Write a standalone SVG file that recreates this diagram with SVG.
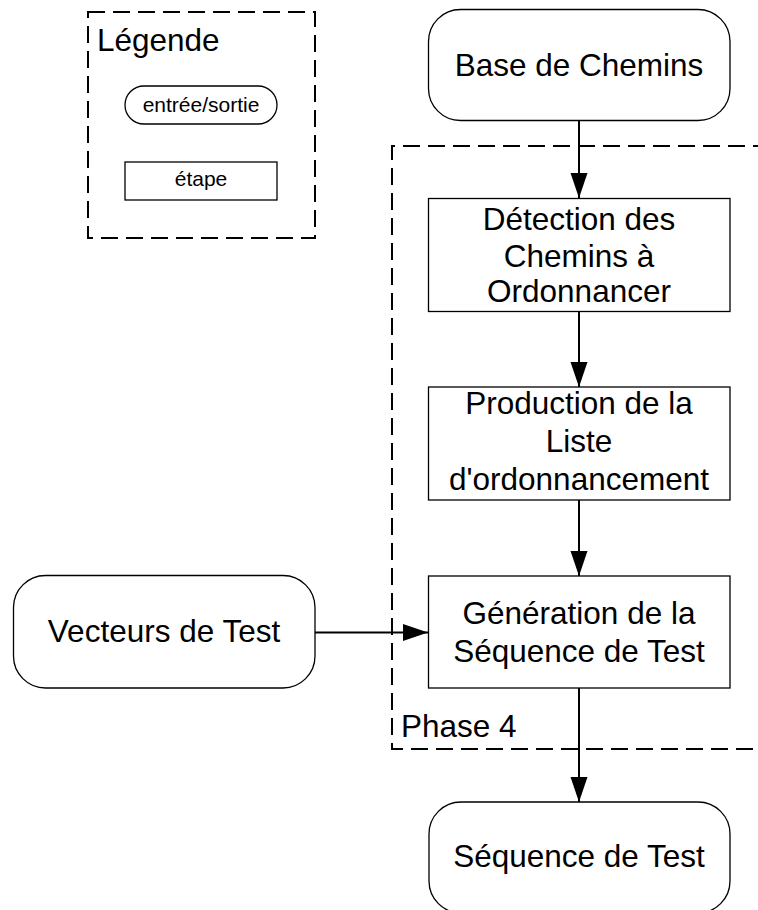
<svg xmlns="http://www.w3.org/2000/svg" width="758" height="910" viewBox="0 0 758 910">
<defs>
<style>
.node{fill:#fff;stroke:#000;stroke-width:1.3}
.dash{fill:none;stroke:#000;stroke-width:2;stroke-dasharray:17 8}
.t{font-family:"Liberation Sans",Arial,sans-serif;font-size:31.5px;fill:#000;text-anchor:middle}
.ts{font-family:"Liberation Sans",Arial,sans-serif;font-size:21px;fill:#000;text-anchor:middle}
.tl{font-family:"Liberation Sans",Arial,sans-serif;font-size:31.5px;fill:#000}
.edge{fill:none;stroke:#000;stroke-width:2}
</style>
<marker id="arr" markerWidth="26" markerHeight="18" refX="25" refY="8.5" orient="auto" markerUnits="userSpaceOnUse">
<path d="M0,0 L25,8.5 L0,17 Z" fill="#000"/>
</marker>
</defs>
<rect width="758" height="910" fill="#fff"/>

<g id="legend">
<rect class="dash" x="88" y="12" width="227" height="226"/>
<text class="tl" x="97" y="51">Légende</text>
<rect class="node" x="125" y="86" width="152" height="38" rx="19"/>
<text class="ts" x="201" y="112">entrée/sortie</text>
<rect class="node" x="125" y="162" width="152" height="38"/>
<text class="ts" x="201" y="186">étape</text>
</g>

<g id="phase4">
<path class="dash" d="M770,146 H392 V749 H770"/>
<text class="tl" x="401" y="737">Phase 4</text>
</g>

<g id="connectors">
<line class="edge" x1="579" y1="121" x2="579" y2="198" marker-end="url(#arr)"/>
<line class="edge" x1="579" y1="312" x2="579" y2="387" marker-end="url(#arr)"/>
<line class="edge" x1="579" y1="500" x2="579" y2="576" marker-end="url(#arr)"/>
<line class="edge" x1="315" y1="632.5" x2="428" y2="632.5" marker-end="url(#arr)"/>
<line class="edge" x1="579" y1="688" x2="579" y2="802" marker-end="url(#arr)"/>
</g>

<g id="base-chemins">
<rect class="node" x="428.5" y="9.5" width="301.5" height="111" rx="32"/>
<text class="t" x="579" y="76">Base de Chemins</text>
</g>

<g id="detection">
<rect class="node" x="428.5" y="198.5" width="301.5" height="113"/>
<text class="t" x="579" y="230">Détection des</text>
<text class="t" x="579" y="266.5">Chemins à</text>
<text class="t" x="579" y="302">Ordonnancer</text>
</g>

<g id="production">
<rect class="node" x="428.5" y="387" width="301.5" height="113"/>
<text class="t" x="579" y="414">Production de la</text>
<text class="t" x="579" y="452">Liste</text>
<text class="t" x="579" y="490">d'ordonnancement</text>
</g>

<g id="generation">
<rect class="node" x="428.5" y="576" width="301.5" height="112"/>
<text class="t" x="579" y="623.5">Génération de la</text>
<text class="t" x="579" y="661.5">Séquence de Test</text>
</g>

<g id="vecteurs">
<rect class="node" x="13.5" y="575.5" width="301.5" height="112.5" rx="32"/>
<text class="t" x="164" y="642">Vecteurs de Test</text>
</g>

<g id="sequence">
<rect class="node" x="429" y="802" width="301" height="111" rx="32"/>
<text class="t" x="579" y="867">Séquence de Test</text>
</g>
</svg>
